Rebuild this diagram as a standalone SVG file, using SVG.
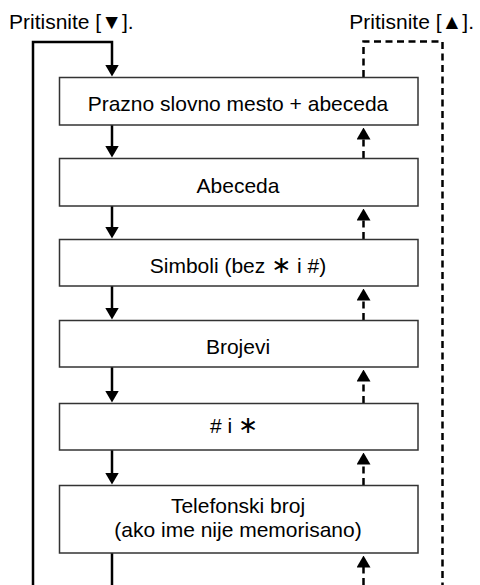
<svg xmlns="http://www.w3.org/2000/svg" width="480" height="585" viewBox="0 0 480 585">
<style>
.box{fill:#fff;stroke:#333;stroke-width:1.5}
.t{font-family:"Liberation Sans",Arial,"DejaVu Sans",sans-serif;font-size:21px;fill:#000}
.c{text-anchor:middle}
.ast{font-family:"DejaVu Sans",sans-serif;font-size:24px}
.solid{fill:none;stroke:#000;stroke-width:2.5}
.dash{fill:none;stroke:#000;stroke-width:2.5;stroke-dasharray:7 4.5}
</style>
<defs>
<marker id="ah" viewBox="0 0 12 14" refX="0.5" refY="7" markerWidth="12" markerHeight="14" markerUnits="userSpaceOnUse" orient="auto">
<path d="M0,0 L12,7 L0,14 z" fill="#000"/>
</marker>
</defs>
<g id="labels">
<text class="t" x="9" y="29">Pritisnite [▼].</text>
<text class="t" x="474" y="29" text-anchor="end">Pritisnite [▲].</text>
</g>
<g id="connectors">
<path class="solid" d="M33,585 V42 H112 V65" marker-end="url(#ah)"/>
<path class="solid" d="M112,125 V146" marker-end="url(#ah)"/>
<path class="solid" d="M112,206 V227" marker-end="url(#ah)"/>
<path class="solid" d="M112,286 V308" marker-end="url(#ah)"/>
<path class="solid" d="M112,367 V391" marker-end="url(#ah)"/>
<path class="solid" d="M112,450 V473" marker-end="url(#ah)"/>
<path class="solid" d="M112,553 V585"/>
<path class="dash" d="M363.5,77 V41.5 H442.5 V585"/>
<path class="dash" d="M363.5,158 V139" marker-end="url(#ah)"/>
<path class="dash" d="M363.5,239 V220" marker-end="url(#ah)"/>
<path class="dash" d="M363.5,320 V300" marker-end="url(#ah)"/>
<path class="dash" d="M363.5,403 V381" marker-end="url(#ah)"/>
<path class="dash" d="M363.5,485 V464" marker-end="url(#ah)"/>
<path class="dash" d="M363.5,585 V567" marker-end="url(#ah)"/>
</g>
<g id="n1"><rect class="box" x="59.5" y="77.5" width="358.5" height="47.5"/><text class="t c" x="238" y="111">Prazno slovno mesto + abeceda</text></g>
<g id="n2"><rect class="box" x="59.5" y="158.5" width="358.5" height="47.5"/><text class="t c" x="238" y="192.5">Abeceda</text></g>
<g id="n3"><rect class="box" x="59.5" y="239.5" width="358.5" height="46.5"/><text class="t c" x="238" y="272.5">Simboli (bez <tspan class="ast">∗</tspan> i #)</text></g>
<g id="n4"><rect class="box" x="59.5" y="320.5" width="358.5" height="46.5"/><text class="t c" x="238" y="353.5">Brojevi</text></g>
<g id="n5"><rect class="box" x="59.5" y="403.5" width="358.5" height="46.5"/><text class="t c" x="234" y="433">#&#160;i <tspan class="ast">∗</tspan></text></g>
<g id="n6"><rect class="box" x="59.5" y="485.5" width="358.5" height="67.5"/><text class="t c" x="238" y="513">Telefonski broj</text><text class="t c" x="238" y="537">(ako ime nije memorisano)</text></g>
</svg>
